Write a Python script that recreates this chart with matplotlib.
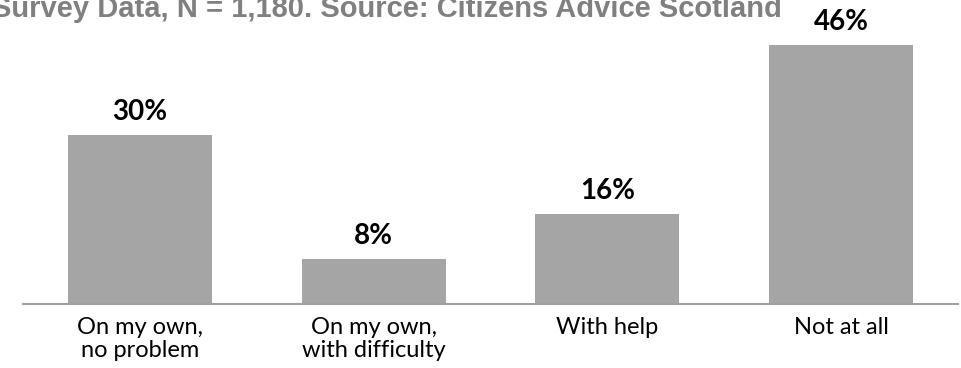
import matplotlib
matplotlib.use("Agg")
import matplotlib.pyplot as plt

categories = ["On my own,\nno problem", "On my own,\nwith difficulty", "With help", "Not at all"]
values = [30, 8, 16, 46]
title_text = "Survey Data, N = 1,180. Source: Citizens Advice Scotland"

W, H, DPI = 961, 368, 100
fig = plt.figure(figsize=(W / DPI, H / DPI), dpi=DPI)

# axes spanning the baseline region (pixel coordinates converted to fractions)
left_px, right_px = 23, 958
base_px = 304
top_px = 45
ax = fig.add_axes([left_px / W, (H - base_px) / H, (right_px - left_px) / W, (base_px - top_px) / H])

x = range(len(categories))
ax.bar(x, values, width=0.617, color="#A5A5A5", zorder=2)
ax.set_xlim(-0.5, len(categories) - 0.5)
ax.set_ylim(0, max(values))

for s in ["top", "right", "left"]:
    ax.spines[s].set_visible(False)
ax.spines["bottom"].set_color("#A0A0A0")
ax.spines["bottom"].set_linewidth(1.5)
ax.set_yticks([])
ax.set_xticks(list(x))
ax.set_xticklabels(categories, fontfamily="Lato", fontsize=17, color="black", linespacing=1.12)
ax.tick_params(axis="x", length=0, pad=9)

for i, v in zip(x, values):
    ax.annotate(f"{v}%", (i, v), xytext=(0, 11), textcoords="offset points",
                ha="center", va="baseline", fontfamily="Lato", fontweight="bold",
                fontsize=20, color="black", clip_on=False)

fig.text(-8 / W, (H - 17) / H, title_text, ha="left", va="baseline",
         fontfamily="Liberation Sans", fontweight="bold", fontsize=21, color="#808080")

fig.savefig("out.png", dpi=DPI, facecolor="white")
